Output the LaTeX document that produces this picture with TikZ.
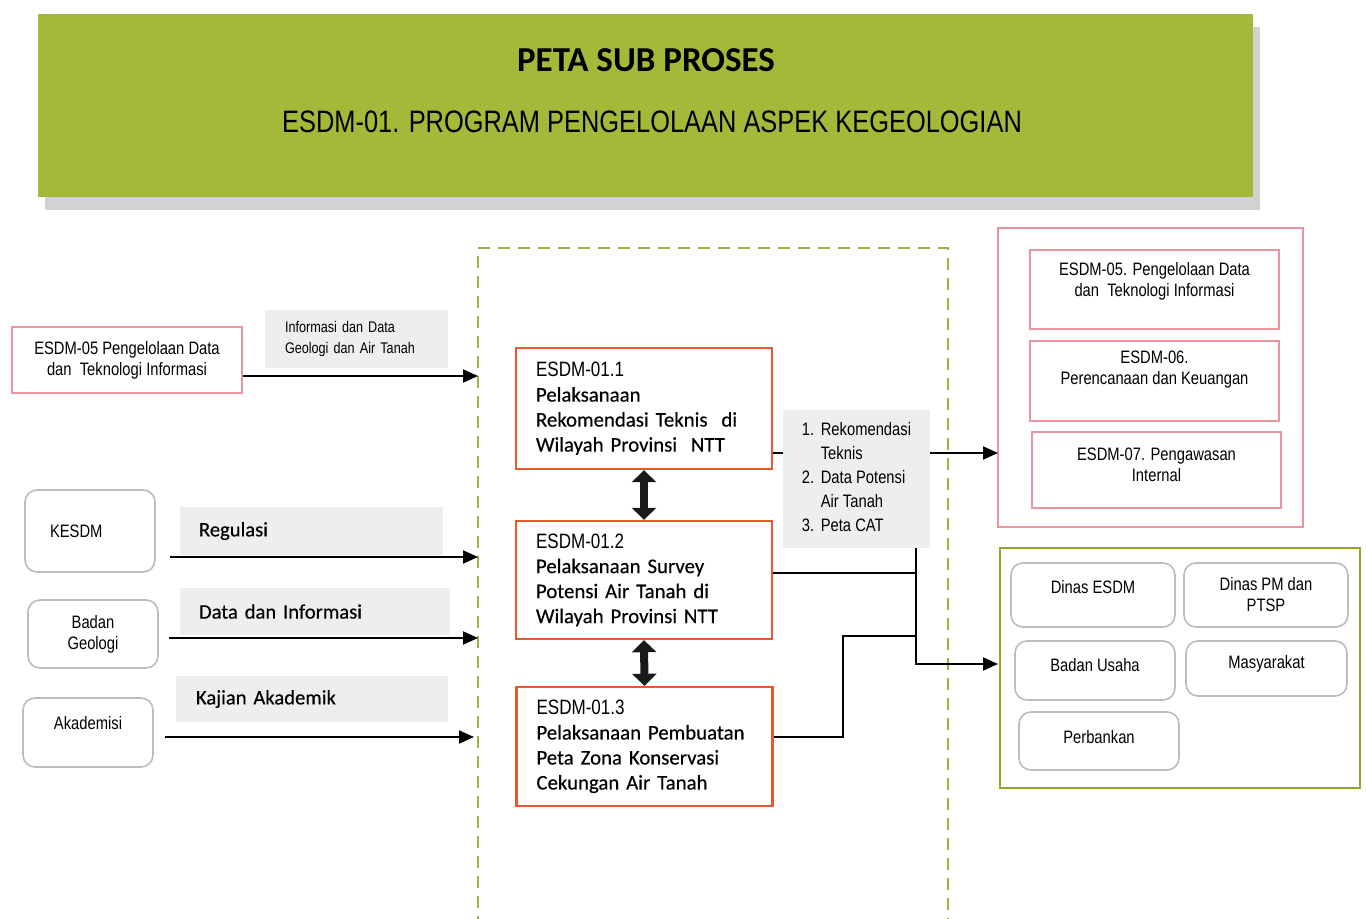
\documentclass[tikz,border=0pt]{standalone}
\usepackage{fontspec}
\setmainfont[FakeBold=0.35, BoldFont=Carlito Bold, BoldFeatures={FakeBold=0}]{Carlito}
\newfontfamily\narrowfont[FakeStretch=0.82]{Liberation Sans}
\usepackage{tikz}
\usetikzlibrary{shapes, positioning, arrows.meta, shadows}

\definecolor{bannergreen}{RGB}{165,184,58}
\definecolor{procorange}{RGB}{234,88,44}
\definecolor{pinkline}{RGB}{232,150,160}
\definecolor{greyline}{RGB}{190,186,194}
\definecolor{dashgreen}{RGB}{170,170,70}
\definecolor{grpgreen}{RGB}{150,165,45}
\definecolor{lblgrey}{RGB}{238,238,238}

\newcommand{\pcode}[1]{{\narrowfont #1}}

\begin{document}
\begin{tikzpicture}[x=0.5pt, y=-0.5pt, >={Triangle[length=7.5pt, width=6.5pt]}]
\tikzstyle{banner}=[fill=bannergreen, draw=none, drop shadow={shadow xshift=3.5pt, shadow yshift=-6.5pt, fill=black!35}]
\tikzstyle{smalltxt}=[font=\narrowfont\fontsize{9}{10.5}\selectfont, align=center, inner sep=0pt]
\tikzstyle{sidebox}=[draw=pinkline, line width=0.8pt, font=\narrowfont\fontsize{9}{10.5}\selectfont, align=center]
\tikzstyle{roundbox}=[draw=greyline, rounded corners=6pt, line width=0.8pt, font=\narrowfont\fontsize{9}{10.5}\selectfont, align=center]
\tikzstyle{grpbox}=[line width=0.8pt]
\tikzstyle{flowlbl}=[fill=lblgrey, font=\fontsize{10.3}{12}\selectfont, align=left]
\tikzstyle{proc}=[draw=procorange, line width=1.2pt, align=left, inner xsep=10pt, text width=108pt, font=\fontsize{10.4}{12.5}\selectfont]
\tikzstyle{corebox}=[draw=dashgreen, line width=0.8pt, dash pattern=on 6pt off 4pt]
\tikzstyle{flow}=[->, line width=1pt]
\tikzstyle{link}=[{Triangle[length=6pt, width=12pt]}-{Triangle[length=6pt, width=12pt]}, line width=4pt, draw=black!90]

\useasboundingbox (0,0) rectangle (1366,919);

\node[banner, minimum width=607.5pt, minimum height=91.5pt] (ban) at (645.5,105.5) {};
\node[font=\bfseries\fontsize{17.5}{20}\selectfont] (ttl) at (646,60) {PETA SUB PROSES};
\node[font=\narrowfont\fontsize{15.5}{18}\selectfont] (sub) at (652,122) {ESDM-01. PROGRAM PENGELOLAAN ASPEK KEGEOLOGIAN};

\node[corebox, minimum width=235pt, minimum height=346pt] (core) at (713,594) {};

\node[sidebox, minimum width=115pt, minimum height=33pt] (dtl) at (127,360) {ESDM-05 Pengelolaan Data\\dan~ Teknologi Informasi};
\node[flowlbl, font=\narrowfont\fontsize{7.7}{10.5}\selectfont, text width=71.5pt, inner xsep=10pt, minimum height=29pt] (ldat) at (356.5,339) {Informasi dan Data\\Geologi dan Air Tanah};

\node[roundbox, minimum width=65pt, minimum height=41pt, text width=40pt, inner xsep=12.5pt, align=left] (kesdm) at (90,531) {KESDM};
\node[flowlbl, text width=112.5pt, inner xsep=9.5pt, minimum height=24pt] (lreg) at (311.5,531) {Regulasi};
\node[roundbox, minimum width=65pt, minimum height=34pt] (bgeo) at (93,634) {Badan\\Geologi};
\node[flowlbl, text width=116pt, inner xsep=9.5pt, minimum height=23.5pt] (ldata) at (315,611.5) {Data dan Informasi};
\node[roundbox, minimum width=65pt, minimum height=34.5pt] (akad) at (88,732.5) {};
\node[smalltxt] (akadt) at ([yshift=4.75pt]akad.center) {Akademisi};
\node[flowlbl, text width=116pt, inner xsep=10pt, minimum height=23pt] (lkaj) at (312,699) {Kajian Akademik};

\coordinate (in1) at (478,376);
\coordinate (in2) at (478,557);
\coordinate (in3) at (478,638);
\coordinate (in4) at (474,737);

\path
(dtl.east |- in1) edge[flow] (in1)
(kesdm.east |- in2) edge[flow, shorten <=7pt] (in2)
(bgeo.east |- in3) edge[flow, shorten <=5pt] (in3)
(akad.east |- in4) edge[flow, shorten <=5.5pt] (in4);

\node[proc, minimum height=60.5pt] (b11) at (644,408.5) {\pcode{ESDM-01.1}\\Pelaksanaan\\Rekomendasi Teknis~ di\\Wilayah Provinsi~ NTT};
\node[proc, minimum height=59pt] (b12) at (644,580) {\pcode{ESDM-01.2}\\Pelaksanaan Survey\\Potensi Air Tanah di\\Wilayah Provinsi NTT};
\node[proc, minimum height=59.5pt] (b13) at (644.5,746.5) {\pcode{ESDM-01.3}\\Pelaksanaan Pembuatan\\Peta Zona Konservasi\\Cekungan Air Tanah};

\draw[link] (b11.south) -- (b12.north);
\draw[link] (b12.south) -- (b13.north);

\node[grpbox, draw=pinkline, minimum width=152.5pt, minimum height=149.5pt] (grpA) at (1150.5,377.5) {};
\node[sidebox, minimum width=124.5pt, minimum height=39.5pt] (r05) at (1154.5,289.5) {};
\node[smalltxt] (r05t) at ([yshift=4pt]r05.center) {ESDM-05. Pengelolaan Data\\dan~ Teknologi Informasi};
\node[sidebox, minimum width=124.5pt, minimum height=40pt] (r06) at (1154.5,381) {};
\node[smalltxt] (r06t) at ([yshift=5.5pt]r06.center) {ESDM-06.\\Perencanaan dan Keuangan};
\node[sidebox, minimum width=124.5pt, minimum height=38pt] (r07) at (1156.5,470) {};
\node[smalltxt] (r07t) at ([yshift=2.5pt]r07.center) {ESDM-07. Pengawasan\\Internal};

\node[grpbox, draw=grpgreen, line width=1pt, minimum width=180pt, minimum height=120pt] (grpB) at (1180,668) {};
\node[roundbox, minimum width=82pt, minimum height=32pt] (dine) at (1093,595) {};
\node[smalltxt] (dinet) at ([yshift=4pt]dine.center) {Dinas ESDM};
\node[roundbox, minimum width=82pt, minimum height=32pt] (dinpm) at (1266,595) {Dinas PM dan\\PTSP};
\node[roundbox, minimum width=80pt, minimum height=29.5pt] (badu) at (1095,670.5) {};
\node[smalltxt] (badut) at ([yshift=2.75pt]badu.center) {Badan Usaha};
\node[roundbox, minimum width=80.5pt, minimum height=27.5pt] (masy) at (1266.5,668.5) {};
\node[smalltxt] (masyt) at ([yshift=2.25pt]masy.center) {Masyarakat};
\node[roundbox, minimum width=80pt, minimum height=29pt] (perb) at (1099,741) {};
\node[smalltxt] (perbt) at ([yshift=2pt]perb.center) {Perbankan};

\coordinate (tipA) at (998,453);
\coordinate (tipB) at (998,664);
\coordinate (jx) at (916,548);
\coordinate (kk) at (843,636);
\coordinate (o2) at ([yshift=3.5pt]b12.east);
\coordinate (o3) at ([yshift=5pt]b13.east);

\draw[flow] (b11.east |- tipA) -- (tipA);
\node[flowlbl, font=\narrowfont\fontsize{9}{12}\selectfont, minimum width=73.5pt, minimum height=69pt, inner xsep=9pt] (lout) at (856.5,479) {\begin{tabular}{@{}l@{\hspace{3.3pt}}l@{}}1. & Rekomendasi\\ & Teknis\\2. & Data Potensi\\ & Air Tanah\\3. & Peta CAT\end{tabular}};
\draw[flow] (lout.south -| jx) |- (tipB);
\draw[line width=1pt] (o2) -- (o2 -| jx);
\draw[line width=1pt] (o3) -| (kk) -- (kk -| jx);

\end{tikzpicture}
\end{document}
